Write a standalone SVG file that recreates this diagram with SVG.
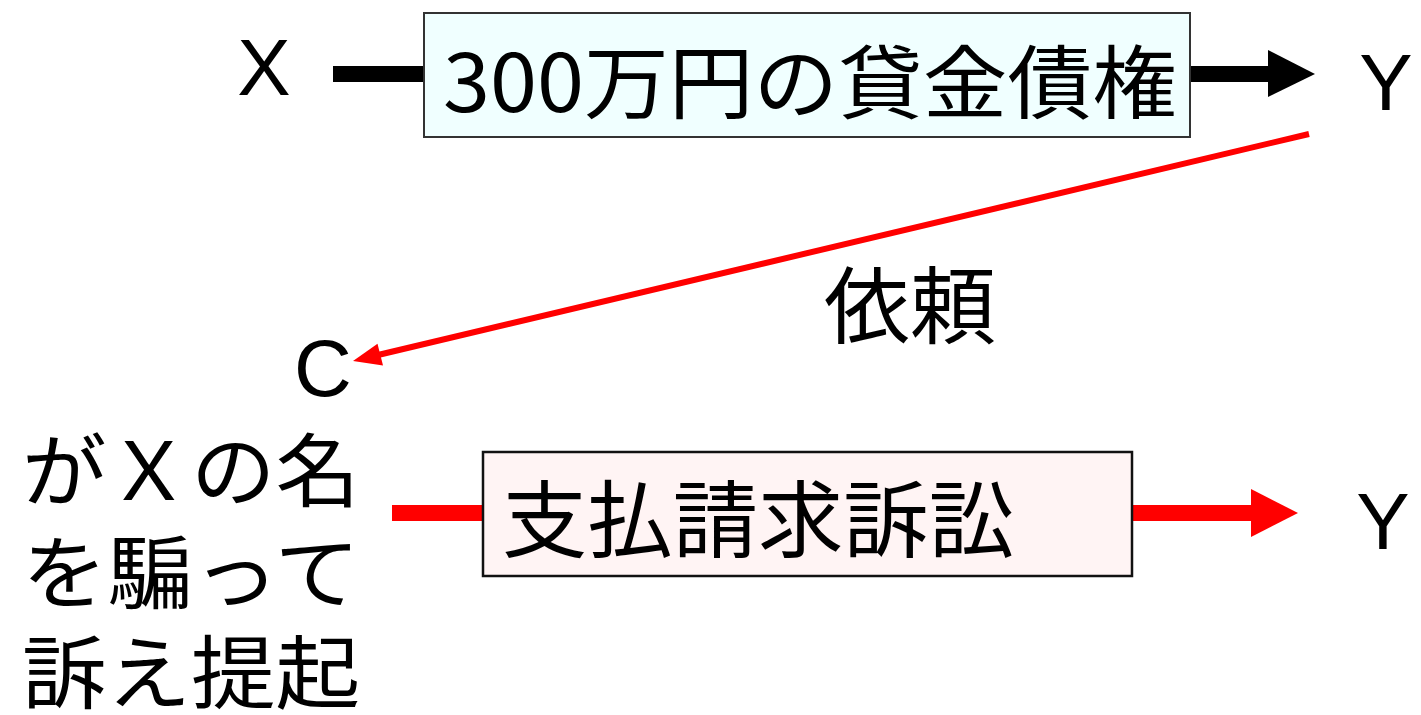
<svg xmlns="http://www.w3.org/2000/svg" width="1421" height="715" viewBox="0 0 1421 715">
  <style>
    .lat { font-family: "Liberation Sans", Arial, sans-serif; font-size: 80px; fill: #000; text-anchor: middle; }
    .jp { font-family: "Noto Sans CJK JP", "Noto Sans", sans-serif; fill: #000; }
    .box1 { fill: #F0FFFF; stroke: #333; stroke-width: 2; }
    .box2 { fill: #FFF4F4; stroke: #111; stroke-width: 2.5; }
  </style>
  <rect width="1421" height="715" fill="#fff"/>

  <g id="connectors">
    <rect x="333" y="66" width="91" height="16" fill="#000"/>
    <rect x="1190" y="66" width="79" height="16" fill="#000"/>
    <polygon points="1268,50 1315,74 1268,97" fill="#000"/>
    <line x1="1309" y1="134" x2="378" y2="355" stroke="#FF0000" stroke-width="6"/>
    <polygon points="353,361 383,365.5 377.5,343.8" fill="#FF0000"/>
    <rect x="392" y="505" width="91" height="16" fill="#FF0000"/>
    <rect x="1132" y="505" width="120" height="16" fill="#FF0000"/>
    <polygon points="1251,489 1298,513 1251,537" fill="#FF0000"/>
  </g>

  <g id="node-x">
    <text class="lat" x="264" y="95">X</text>
  </g>
  <g id="node-y-top">
    <text class="lat" x="1386" y="110">Y</text>
  </g>
  <g id="node-claim">
    <rect class="box1" x="424" y="13" width="766" height="124"/>
    <text class="jp" x="443" y="112" font-size="80" textLength="734" lengthAdjust="spacingAndGlyphs">300万円の貸金債権</text>
  </g>
  <g id="label-irai">
    <text class="jp" x="824" y="337" font-size="84" textLength="172" lengthAdjust="spacingAndGlyphs">依頼</text>
  </g>
  <g id="node-c">
    <text class="lat" x="323" y="396">C</text>
  </g>
  <g id="node-c-desc">
    <text class="jp" x="22" y="500" font-size="80" textLength="338" lengthAdjust="spacingAndGlyphs">がＸの名</text>
    <text class="jp" x="22" y="602" font-size="80" textLength="338" lengthAdjust="spacingAndGlyphs">を騙って</text>
    <text class="jp" x="22" y="702" font-size="80" textLength="338" lengthAdjust="spacingAndGlyphs">訴え提起</text>
  </g>
  <g id="node-suit">
    <rect class="box2" x="483" y="452" width="649" height="124"/>
    <text class="jp" x="502" y="551" font-size="84" textLength="512" lengthAdjust="spacingAndGlyphs">支払請求訴訟</text>
  </g>
  <g id="node-y-bottom">
    <text class="lat" x="1383" y="549">Y</text>
  </g>
</svg>
